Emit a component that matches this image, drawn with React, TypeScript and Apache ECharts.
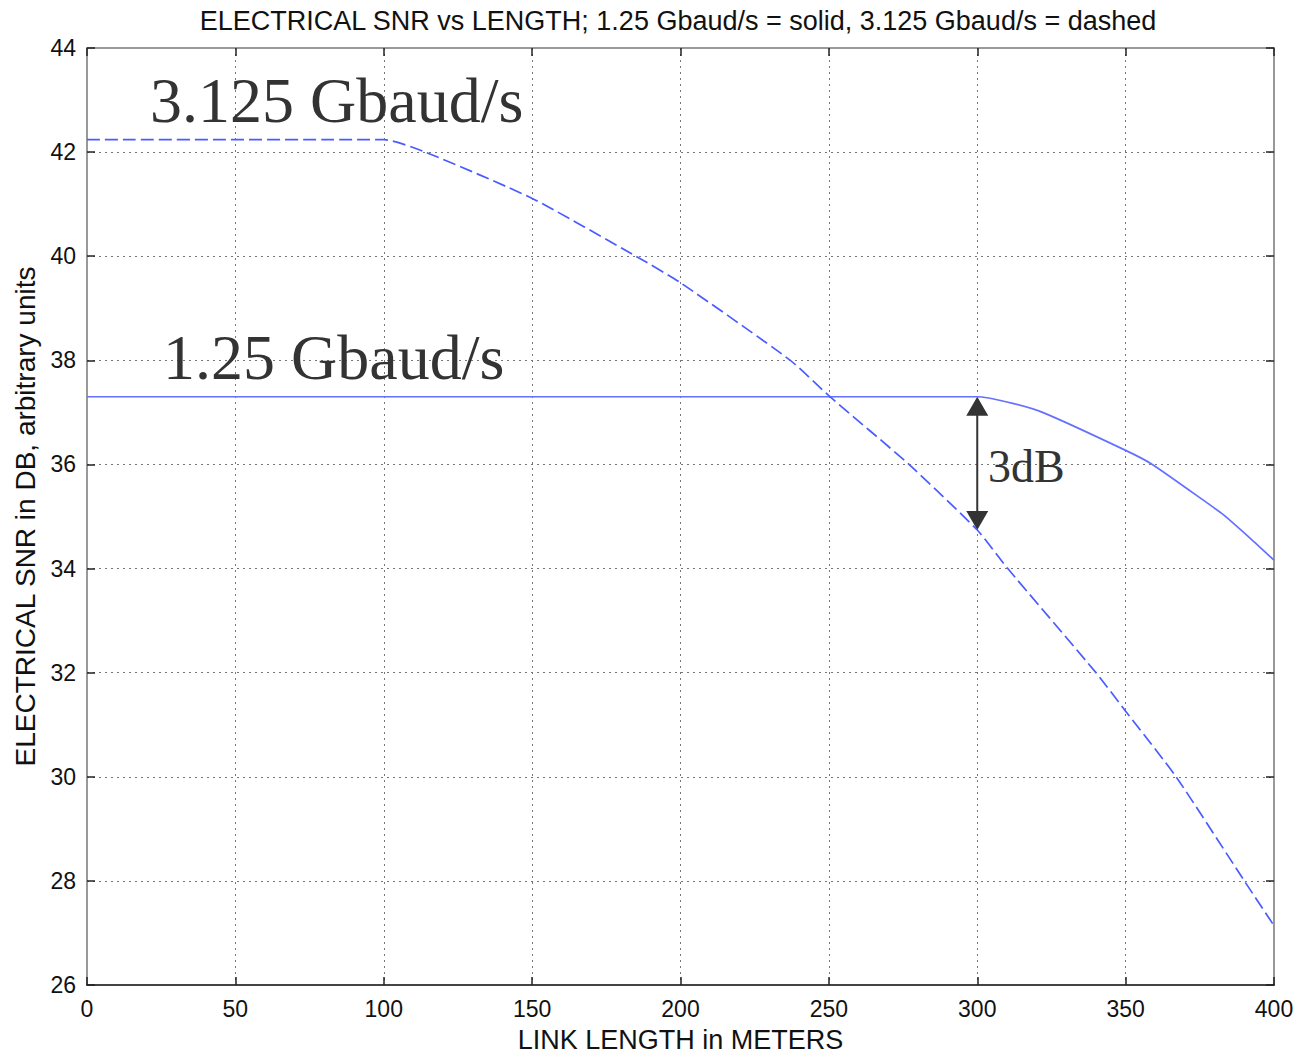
import React, { useEffect, useRef } from "react";
import * as echarts from "echarts";

// Link length (m) and electrical SNR (dB) for the 1.25 Gbaud/s link (solid)
const solidLength = [0, 300, 310, 322, 350, 359, 377, 383, 392, 400];
const solidSnr = [37.3, 37.3, 37.2, 37.0, 36.27, 36.0, 35.28, 35.03, 34.58, 34.16];

// Link length (m) and electrical SNR (dB) for the 3.125 Gbaud/s link (dashed)
const dashedLength = [0, 100, 114, 150, 185, 200, 237, 250, 277, 300, 310, 340, 350, 367, 390, 400];
const dashedSnr = [42.24, 42.24, 42.0, 41.11, 40.0, 39.49, 38.0, 37.32, 36.0, 34.74, 34.02, 32.0, 31.26, 30.0, 28.0, 27.14];

// Axis ranges
const xRange = { min: 0, max: 400, step: 50 };
const yRange = { min: 26, max: 44, step: 2 };

// Penalty marker between the two curves at 300 m
const gapLength = 300;
const gapTop = 37.3;
const gapBottom = 34.74;

const TITLE = "ELECTRICAL SNR vs LENGTH; 1.25 Gbaud/s = solid, 3.125 Gbaud/s = dashed";
const X_NAME = "LINK LENGTH in METERS";
const Y_NAME = "ELECTRICAL SNR in DB, arbitrary units";

const SANS = "'Liberation Sans', Arial, Helvetica, sans-serif";
const SERIF = "'Liberation Serif', 'Times New Roman', serif";

const zip = (xs: number[], ys: number[]) => xs.map((x, i) => [x, ys[i]]);

export default function App() {
  const ref = useRef<HTMLDivElement>(null);

  useEffect(() => {
    if (!ref.current) return;
    const chart = echarts.init(ref.current, null, { renderer: "svg" });

    const tick = { inside: true, length: 8, lineStyle: { color: "#222", width: 1.5 } };
    const grid = { show: true, lineStyle: { color: "#777", type: [2, 4], width: 1 } };
    const frame = { onZero: false, lineStyle: { color: "#999", width: 2 } };

    chart.setOption({
      animation: false,
      backgroundColor: "#ffffff",
      grid: { left: 87, right: 25, top: 48, bottom: 70 },
      xAxis: [
        {
          type: "value",
          position: "bottom",
          min: xRange.min,
          max: xRange.max,
          interval: xRange.step,
          axisLine: { onZero: false, lineStyle: { color: "#444", width: 2 } },
          axisTick: tick,
          axisLabel: { color: "#111", fontSize: 23, fontFamily: SANS, margin: 12 },
          splitLine: grid,
          name: X_NAME,
          nameLocation: "middle",
          nameGap: 41,
          nameTextStyle: { color: "#111", fontSize: 27, fontFamily: SANS },
        },
        {
          type: "value",
          position: "top",
          min: xRange.min,
          max: xRange.max,
          interval: xRange.step,
          axisLine: frame,
          axisTick: tick,
          axisLabel: { show: false },
          splitLine: { show: false },
        },
      ],
      yAxis: [
        {
          type: "value",
          position: "left",
          min: yRange.min,
          max: yRange.max,
          interval: yRange.step,
          axisLine: frame,
          axisTick: tick,
          axisLabel: { color: "#111", fontSize: 23, fontFamily: SANS, margin: 11 },
          splitLine: grid,
          name: Y_NAME,
          nameLocation: "middle",
          nameGap: 48,
          nameRotate: 90,
          nameTextStyle: { color: "#111", fontSize: 28, fontFamily: SANS },
        },
        {
          type: "value",
          position: "right",
          min: yRange.min,
          max: yRange.max,
          interval: yRange.step,
          axisLine: frame,
          axisTick: tick,
          axisLabel: { show: false },
          splitLine: { show: false },
        },
      ],
      series: [
        {
          name: "1.25 Gbaud/s",
          type: "line",
          data: zip(solidLength, solidSnr),
          symbol: "none",
          smooth: 0.2,
          lineStyle: { color: "#6470ff", width: 1.7 },
        },
        {
          name: "3.125 Gbaud/s",
          type: "line",
          data: zip(dashedLength, dashedSnr),
          symbol: "none",
          smooth: 0.2,
          lineStyle: { color: "#4a5cff", width: 1.7, type: [13, 5] },
        },
      ],
    });

    // Double-headed arrow marking the SNR gap at 300 m
    const top = chart.convertToPixel({ gridIndex: 0 }, [gapLength, gapTop]) as number[];
    const bot = chart.convertToPixel({ gridIndex: 0 }, [gapLength, gapBottom]) as number[];
    const head = 19;
    const half = 11;
    const ink = "#333";

    chart.setOption({
      graphic: [
        {
          type: "text",
          x: 678,
          y: 21,
          style: {
            text: TITLE,
            fill: "#111",
            font: `27px ${SANS}`,
            align: "center",
            verticalAlign: "middle",
          },
        },
        {
          type: "text",
          x: 150,
          y: 100,
          style: { text: "3.125 Gbaud/s", fill: ink, font: `64px ${SERIF}`, align: "left", verticalAlign: "middle" },
        },
        {
          type: "text",
          x: 163,
          y: 357,
          style: { text: "1.25 Gbaud/s", fill: ink, font: `64px ${SERIF}`, align: "left", verticalAlign: "middle" },
        },
        {
          type: "text",
          x: 988,
          y: 466,
          style: { text: "3dB", fill: ink, font: `46px ${SERIF}`, align: "left", verticalAlign: "middle" },
        },
        {
          type: "line",
          shape: { x1: top[0], y1: top[1] + head - 2, x2: bot[0], y2: bot[1] - head + 2 },
          style: { stroke: ink, lineWidth: 2 },
        },
        {
          type: "polygon",
          shape: { points: [[top[0], top[1]], [top[0] - half, top[1] + head], [top[0] + half, top[1] + head]] },
          style: { fill: ink },
        },
        {
          type: "polygon",
          shape: { points: [[bot[0], bot[1]], [bot[0] - half, bot[1] - head], [bot[0] + half, bot[1] - head]] },
          style: { fill: ink },
        },
      ],
    });

    return () => chart.dispose();
  }, []);

  return (
    <div
      ref={ref}
      style={{ position: "absolute", left: 0, top: 0, width: 1299, height: 1058, background: "#fff" }}
    />
  );
}
